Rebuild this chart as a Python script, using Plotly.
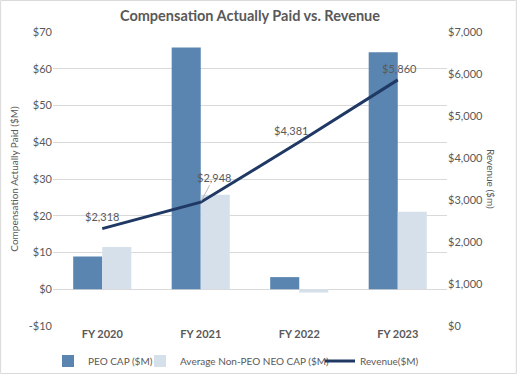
import plotly.graph_objects as go

categories = ["FY 2020", "FY 2021", "FY 2022", "FY 2023"]
peo_cap = [8.9, 65.8, 3.3, 64.5]
non_peo_cap = [11.5, 25.7, -0.9, 21.1]
revenue = [2318, 2948, 4381, 5860]
revenue_labels = ["$2,318", "$2,948", "$4,381", "$5,860"]
left_ticks = [-10, 0, 10, 20, 30, 40, 50, 60, 70]
left_ticktext = ["-$10", "$0", "$10", "$20", "$30", "$40", "$50", "$60", "$70"]
right_ticks = [0, 1000, 2000, 3000, 4000, 5000, 6000, 7000]
right_ticktext = ["$0", "$1,000", "$2,000", "$3,000", "$4,000", "$5,000", "$6,000", "$7,000"]

GRAY = "#595959"
FONT = "Lato"
W, H = 518, 375

fig = go.Figure()
fig.add_trace(go.Bar(x=categories, y=peo_cap, name="PEO CAP ($M)", legend="legend",
                     marker=dict(color="#5B85B1", line=dict(width=0))))
fig.add_trace(go.Bar(x=categories, y=non_peo_cap, name="Average Non-PEO NEO CAP ($M)",
                     legend="legend2",
                     marker=dict(color="#D6E0EB", line=dict(width=0))))
fig.add_trace(go.Scatter(x=categories, y=revenue, name="Revenue($M)", mode="lines",
                         legend="legend3",
                         line=dict(color="#1F3864", width=3), yaxis="y2"))

# label offsets (pixels) relative to points
offsets = [(0, 12, False), (13, 25, True), (-8, 12, False), (2, 11, False)]
for c, v, t, (dx, dy, arrow) in zip(categories, revenue, revenue_labels, offsets):
    if arrow:
        fig.add_annotation(x=c, y=v, yref="y2", text=t, showarrow=True, arrowhead=0,
                           arrowwidth=0.8, arrowcolor="#A6A6A6", ax=dx, ay=-dy,
                           font=dict(family=FONT, size=11, color=GRAY), standoff=1)
    else:
        fig.add_annotation(x=c, y=v, yref="y2", text=t, showarrow=False,
                           xshift=dx, yshift=dy,
                           font=dict(family=FONT, size=11, color=GRAY))

fig.add_annotation(x=(499 - 53) / 394, y=0.5, xref="paper", yref="paper",
                   text="Revenue ($m)", textangle=90, showarrow=False,
                   font=dict(family=FONT, size=10, color=GRAY))

fig.add_shape(type="rect", xref="paper", yref="paper",
              x0=-0.133, x1=1.176, y0=-0.1616, y1=1.107,
              line=dict(color="#D9D9D9", width=1), fillcolor="rgba(0,0,0,0)", layer="below")


def legend_at(text_x):
    return dict(orientation="h", xref="container", x=(text_x - 42) / W, xanchor="left",
                yref="container", y=(H - 361) / H, yanchor="middle",
                font=dict(family=FONT, size=10, color=GRAY), itemwidth=30,
                bgcolor="rgba(0,0,0,0)")


fig.update_layout(
    width=W, height=H,
    margin=dict(l=53, r=71, t=32, b=49, autoexpand=False),
    paper_bgcolor="white", plot_bgcolor="white",
    font=dict(family=FONT, size=11, color=GRAY),
    title=dict(text="<b>Compensation Actually Paid vs. Revenue</b>", x=0.5, xref="paper",
               y=1 - 16 / H, yref="container", yanchor="middle",
               font=dict(family=FONT, size=14.5, color=GRAY)),
    barmode="group", bargap=0.41, bargroupgap=0,
    xaxis=dict(showgrid=False, showline=False, ticks="", automargin=False,
               tickfont=dict(family=FONT, size=11, color=GRAY, weight="bold")),
    yaxis=dict(range=[-10, 70], tickvals=left_ticks, ticktext=left_ticktext,
               showgrid=True, gridcolor="#D9D9D9", gridwidth=1, zeroline=False,
               automargin=False,
               tickfont=dict(family=FONT, size=11, color=GRAY),
               title=dict(text="Compensation Actually Paid ($M)", standoff=8,
                          font=dict(family=FONT, size=10, color=GRAY))),
    yaxis2=dict(range=[0, 7000], tickvals=right_ticks, ticktext=right_ticktext,
                overlaying="y", side="right", showgrid=False, zeroline=False,
                automargin=False,
                tickfont=dict(family=FONT, size=11, color=GRAY)),
    legend=legend_at(90),
    legend2=legend_at(182),
    legend3=legend_at(362),
    showlegend=True,
)

fig.write_html("out.html", config={"displayModeBar": False},
               post_script="document.body.style.margin='0';document.body.style.padding='0';")
